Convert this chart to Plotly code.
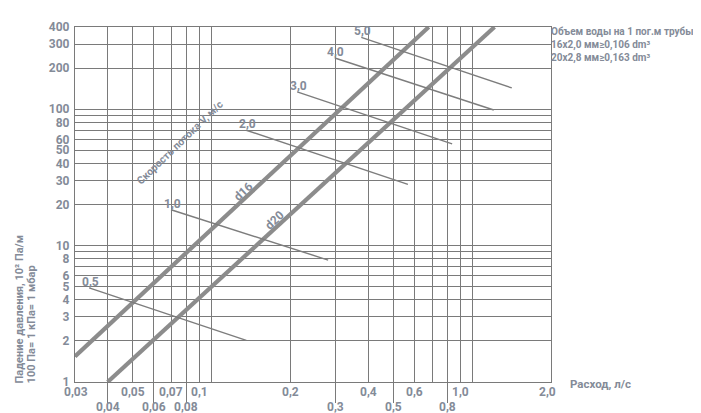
import math
import plotly.graph_objects as go

# ---- data ----
d16_flow = [0.03, 0.68]
d16_drop = [1.54, 400]
d20_flow = [0.04, 1.215]
d20_drop = [1.0, 400]

vel_labels = ["0,5", "1,0", "2,0", "3,0", "4,0", "5,0"]
vel_flow_start = [0.034, 0.070, 0.136, 0.213, 0.297, 0.375]
vel_drop_start = [4.9, 18.3, 70, 134, 237, 336]
vel_flow_end = [0.136, 0.280, 0.566, 0.836, 1.207, 1.415]
vel_drop_end = [2.02, 7.83, 28.1, 55.6, 98.6, 143]

x_grid_other = [0.03, 0.05, 0.07, 0.09, 0.1, 0.2, 0.4, 0.6, 0.7, 0.9, 1.0, 2.0]
x_grid_long = [0.04, 0.06, 0.08, 0.3, 0.5, 0.8]
x_top_pos = [0.03, 0.05, 0.07, 0.09, 0.2, 0.4, 0.6, 0.9, 2.0]
x_top_text = ["0,03", "0,05", "0,07", "0,1", "0,2", "0,4", "0,6", "1,0", "2,0"]
x_bot_text = ["0,04", "0,06", "0,08", "0,3", "0,5", "0,8"]

y_tick_vals = [1, 2, 3, 4, 5, 6, 8, 10, 20, 30, 40, 50, 60, 80, 100, 200, 300, 400]
y_tick_text = [str(v) for v in y_tick_vals]
y_grid_other = [7, 9, 70, 90]

legend_lines = ["Объем воды на 1 пог.м трубы",
                "16x2,0 мм≥0,106 dm³",
                "20x2,8 мм≥0,163 dm³"]

GRID = "#7a7a7a"
TXT = "#848b98"
THICK = "#8c8c8c"
FONT = "Roboto, Arial, sans-serif"


def f(size):
    return dict(family=FONT, size=size, color=TXT, weight="bold")


fig = go.Figure()
fig.add_trace(go.Scatter(x=d16_flow, y=d16_drop, mode="lines",
                         line=dict(color=THICK, width=4.2), hoverinfo="skip"))
fig.add_trace(go.Scatter(x=d20_flow, y=d20_drop, mode="lines",
                         line=dict(color=THICK, width=4.2), hoverinfo="skip"))
for i in range(len(vel_labels)):
    fig.add_trace(go.Scatter(x=[vel_flow_start[i], vel_flow_end[i]],
                             y=[vel_drop_start[i], vel_drop_end[i]],
                             mode="lines", line=dict(color="#7d7d7d", width=1.4),
                             hoverinfo="skip"))

ann = []
for v, t in zip(x_top_pos, x_top_text):
    ann.append(dict(x=math.log10(v), y=-0.028, xref="x", yref="paper", text=t,
                    showarrow=False, xanchor="center", yanchor="middle", font=f(12),
                    xshift=(-4 if t == "2,0" else (1 if t == "0,03" else 0))))
for v, t in zip(x_grid_long, x_bot_text):
    ann.append(dict(x=math.log10(v), y=-0.071, xref="x", yref="paper", text=t,
                    showarrow=False, xanchor="center", yanchor="middle", font=f(12)))
for i, t in enumerate(vel_labels):
    ann.append(dict(x=math.log10(vel_flow_start[i]), y=math.log10(vel_drop_start[i]),
                    xref="x", yref="y", text=t, showarrow=False, xanchor="center",
                    yanchor="middle", yshift=6, xshift=1, font=f(12)))
ann.append(dict(x=0.22, y=0.676, xref="paper", yref="paper", text="Скорость потока V, м/с",
                showarrow=False, textangle=-44, xanchor="center", yanchor="middle", font=f(10.5)))
ann.append(dict(x=0.355, y=0.537, xref="paper", yref="paper", text="d16",
                showarrow=False, textangle=-43, xanchor="center", yanchor="middle", font=f(12)))
ann.append(dict(x=0.4195, y=0.457, xref="paper", yref="paper", text="d20",
                showarrow=False, textangle=-43, xanchor="center", yanchor="middle", font=f(12)))
for t, yp in zip(legend_lines, [0.986, 0.949, 0.913]):
    ann.append(dict(x=0.995, y=yp, xref="paper", yref="paper", text=t, showarrow=False,
                    xanchor="left", yanchor="middle", font=f(10)))
ann.append(dict(x=1.036, y=-0.006, xref="paper", yref="paper", text="Расход, л/с",
                showarrow=False, xanchor="left", yanchor="middle", font=f(11.5)))
ann.append(dict(x=-0.116, y=-0.009, xref="paper", yref="paper",
                text="Падение давления, 10² Па/м", showarrow=False, textangle=-90,
                xanchor="center", yanchor="bottom", font=f(11)))
ann.append(dict(x=-0.092, y=-0.009, xref="paper", yref="paper",
                text="100 Па= 1 кПа= 1 мбар", showarrow=False, textangle=-90,
                xanchor="center", yanchor="bottom", font=f(11)))

fig.update_layout(
    width=701, height=413,
    margin=dict(l=67, r=158, t=19, b=39),
    paper_bgcolor="white", plot_bgcolor="white",
    showlegend=False,
    annotations=ann,
    xaxis=dict(type="log", range=[math.log10(0.03), math.log10(2.0)],
               tickmode="array", tickvals=x_grid_long, showticklabels=False,
               ticks="outside", ticklen=20, tickwidth=1, tickcolor=GRID,
               showgrid=True, gridcolor=GRID, gridwidth=1,
               minor=dict(tickmode="array", tickvals=x_grid_other, showgrid=True,
                          gridcolor=GRID, gridwidth=1, ticks=""),
               showline=True, linecolor=GRID, linewidth=1.2, mirror=True, zeroline=False),
    yaxis=dict(type="log", range=[0, math.log10(400)],
               tickmode="array", tickvals=y_tick_vals, ticktext=y_tick_text,
               ticks="", ticklabelstandoff=2,
               tickfont=f(12),
               showgrid=True, gridcolor=GRID, gridwidth=1,
               minor=dict(tickmode="array", tickvals=y_grid_other, showgrid=True,
                          gridcolor=GRID, gridwidth=1, ticks=""),
               showline=True, linecolor=GRID, linewidth=1.2, mirror=True, zeroline=False),
)

fig.write_html("out.html")
